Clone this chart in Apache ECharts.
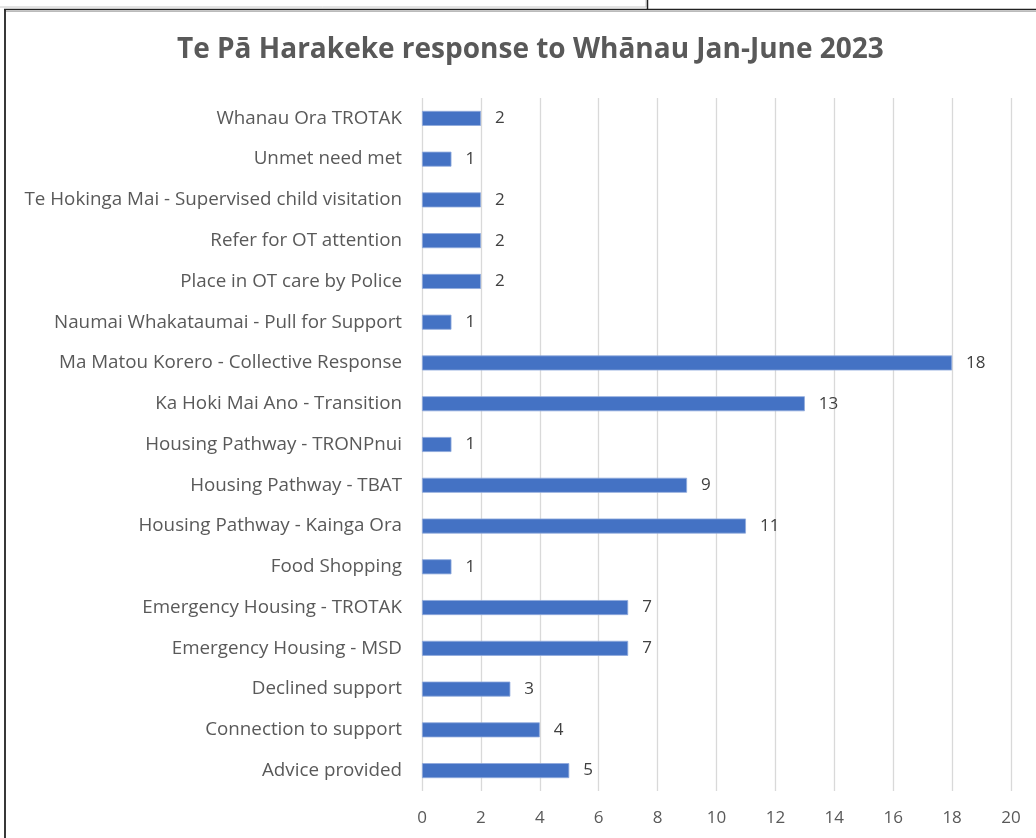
<!DOCTYPE html>
<html>
<head>
<meta charset="utf-8">
<script src="https://cdn.jsdelivr.net/npm/echarts@6/dist/echarts.min.js"></script>
<style>
html,body{margin:0;padding:0;background:#fff;}
#c{width:1036px;height:838px;}
</style>
</head>
<body>
<div id="c"></div>
<script>
var titleText = 'Te Pā Harakeke response to Whānau Jan-June 2023';
var categories = [
  'Whanau Ora TROTAK',
  'Unmet need met',
  'Te Hokinga Mai - Supervised child visitation',
  'Refer for OT attention',
  'Place in OT care by Police',
  'Naumai Whakataumai - Pull for Support',
  'Ma Matou Korero - Collective Response',
  'Ka Hoki Mai Ano - Transition',
  'Housing Pathway - TRONPnui',
  'Housing Pathway - TBAT',
  'Housing Pathway - Kainga Ora',
  'Food Shopping',
  'Emergency Housing - TROTAK',
  'Emergency Housing - MSD',
  'Declined support',
  'Connection to support',
  'Advice provided'
];
var values = [2, 1, 2, 2, 2, 1, 18, 13, 1, 9, 11, 1, 7, 7, 3, 4, 5];
var xMin = 0, xMax = 20, xStep = 2;

var chart = echarts.init(document.getElementById('c'));
var font = '"Open Sans", "Noto Sans", sans-serif';
chart.setOption({
  animation: false,
  backgroundColor: '#fff',
  title: {
    text: titleText,
    left: 172,
    top: 31,
    textStyle: {fontFamily: font, fontSize: 28, fontWeight: 'bold', color: '#595959'}
  },
  grid: {left: 422, right: 25, top: 98, bottom: 47, containLabel: false},
  xAxis: {
    type: 'value', min: xMin, max: xMax, interval: xStep,
    axisLine: {show: false}, axisTick: {show: false},
    axisLabel: {fontFamily: font, fontSize: 17, color: '#595959', margin: 19},
    splitLine: {show: true, lineStyle: {color: '#d9d9d9', width: 1.3}}
  },
  yAxis: {
    type: 'category', data: categories, inverse: true,
    axisLine: {show: false}, axisTick: {show: false},
    axisLabel: {fontFamily: font, fontSize: 18.8, color: '#595959', margin: 20}
  },
  series: [{
    type: 'bar', data: values, barWidth: 15,
    itemStyle: {color: '#4472C4', borderColor: '#8fa9dc', borderWidth: 0.8},
    label: {show: true, position: 'right', distance: 14, fontFamily: font, fontSize: 17, color: '#404040'}
  }],
  graphic: [
    {type: 'rect', shape: {x: -1, y: -1, width: 647, height: 8}, style: {fill: 'none', stroke: '#c8c8c8', lineWidth: 1}, silent: true},
    {type: 'line', shape: {x1: 647.5, y1: 0, x2: 647.5, y2: 9}, style: {stroke: '#222', lineWidth: 1.5}, silent: true},
    {type: 'line', shape: {x1: 4, y1: 9.5, x2: 1036, y2: 9.5}, style: {stroke: '#222', lineWidth: 1.5}, silent: true},
    {type: 'line', shape: {x1: 6, y1: 11.5, x2: 1036, y2: 11.5}, style: {stroke: '#bbb', lineWidth: 1.2}, silent: true},
    {type: 'line', shape: {x1: 5, y1: 9, x2: 5, y2: 838}, style: {stroke: '#222', lineWidth: 1.8}, silent: true}
  ]
});
</script>
</body>
</html>
